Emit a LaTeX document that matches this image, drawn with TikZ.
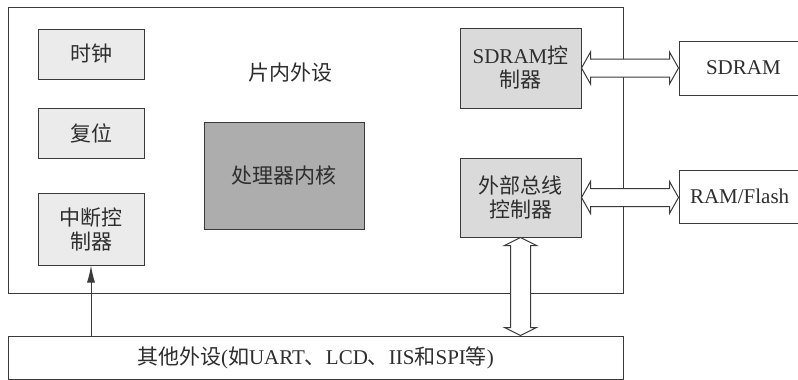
\documentclass[tikz,border=0pt]{standalone}
\usepackage{fontspec}
\setmainfont{Liberation Serif}
\newfontfamily\cjk{Noto Sans CJK SC}
\usetikzlibrary{arrows.meta,calc}
\definecolor{ln}{HTML}{3A3A3A}
\definecolor{tx}{HTML}{2E2E2E}
\definecolor{light}{HTML}{EBEBEB}
\definecolor{mid}{HTML}{DADADA}
\definecolor{dark}{HTML}{ADADAD}
\tikzset{
  base/.style={draw=ln, line width=1pt, inner sep=0pt, text=tx, align=center,
    font=\fontsize{21}{25}\selectfont},
  lightbox/.style={base, fill=light},
  midbox/.style={base, fill=mid},
  darkbox/.style={base, fill=dark},
  plainbox/.style={base, fill=white},
  lbl/.style={text=tx, inner sep=0pt, font=\fontsize{21}{25}\selectfont},
  dbl/.style={draw=ln, line width=1pt, fill=white, line join=miter},
}
\newcommand{\zh}[1]{{\cjk #1}}
\begin{document}
\begin{tikzpicture}[x=1pt,y=-1pt]
\useasboundingbox (0,0) rectangle (798,380);
% chip outline
\node[plainbox, minimum width=615, minimum height=286] (chip) at (315.5,150) {};
\node[lbl] (onchip) at (290,73) {\zh{片内外设}};
% left small blocks
\node[lightbox, minimum width=106, minimum height=50] (clk) at (91,54) {\zh{时钟}};
\node[lightbox, minimum width=106, minimum height=50] (rst) at (91,133) {\zh{复位}};
\node[lightbox, minimum width=106, minimum height=72] (intc) at (91,229) {\zh{中断控}\\[-1pt]\zh{制器}};
% core
\node[darkbox, minimum width=160, minimum height=107] (cpu) at (284,175.5) {\zh{处理器内核}};
% controllers
\node[midbox, minimum width=121, minimum height=80] (sdramc) at (520.5,68) {SDRAM\zh{控}\\[-1pt]\zh{制器}};
\node[midbox, minimum width=121, minimum height=79] (ebc) at (520.5,197.5) {\zh{外部总线}\\[-1pt]\zh{控制器}};
% external memories
\node[plainbox, minimum width=125, minimum height=54, text width=125, align=left] (sdram) at (741.5,68) {\hspace*{27pt}SDRAM};
\node[plainbox, minimum width=125, minimum height=53, text width=125, align=left] (ram) at (741.5,196.5) {\hspace*{11pt}RAM/Flash};
% other peripherals
\node[plainbox, minimum width=615, minimum height=43] (periph) at (315.5,357.5) {\zh{其他外设}(\zh{如}UART\zh{、}LCD\zh{、}IIS\zh{和}SPI\zh{等})};
% interrupt arrow
\draw[draw=ln, line width=1pt, -{Latex[length=17pt,width=8pt]}] (intc.south |- periph.north) -- (intc.south);
% double arrows
\draw[dbl] (sdramc.east) -- ($(sdramc.east)+(9,-16)$) -- ($(sdramc.east)+(9,-9)$)
  -- ($(sdram.west)+(-9,-9)$) -- ($(sdram.west)+(-9,-16)$) -- (sdram.west)
  -- ($(sdram.west)+(-9,16)$) -- ($(sdram.west)+(-9,9)$)
  -- ($(sdramc.east)+(9,9)$) -- ($(sdramc.east)+(9,16)$) -- cycle;
\coordinate (ebcE) at (ebc.east);
\coordinate (ramW) at (ebc.east -| ram.west);
\draw[dbl] (ebcE) -- ($(ebcE)+(9,-16)$) -- ($(ebcE)+(9,-9)$)
  -- ($(ramW)+(-9,-9)$) -- ($(ramW)+(-9,-16)$) -- (ramW)
  -- ($(ramW)+(-9,16)$) -- ($(ramW)+(-9,9)$)
  -- ($(ebcE)+(9,9)$) -- ($(ebcE)+(9,16)$) -- cycle;
\coordinate (ebcS) at (ebc.south);
\coordinate (perN) at (ebc.south |- periph.north);
\draw[dbl] (ebcS) -- ($(ebcS)+(16,8)$) -- ($(ebcS)+(10,8)$)
  -- ($(perN)+(10,-8)$) -- ($(perN)+(16,-8)$) -- (perN)
  -- ($(perN)+(-16,-8)$) -- ($(perN)+(-10,-8)$)
  -- ($(ebcS)+(-10,8)$) -- ($(ebcS)+(-16,8)$) -- cycle;
\end{tikzpicture}
\end{document}
